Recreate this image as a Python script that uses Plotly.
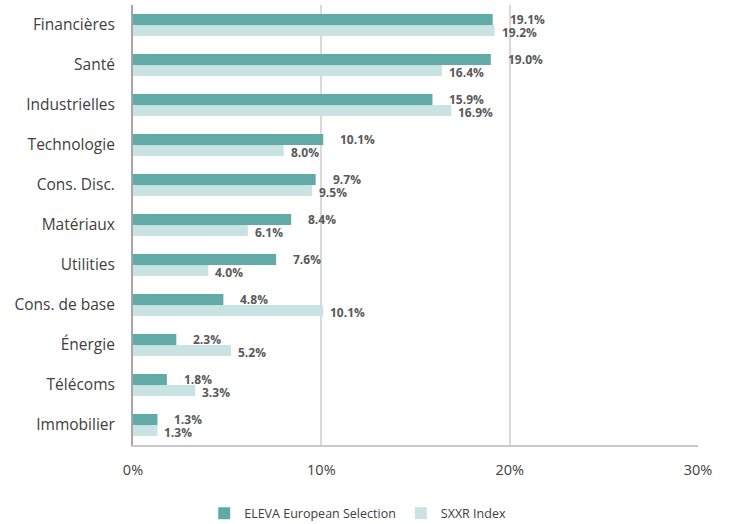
import plotly.graph_objects as go

categories = ["Financières", "Santé", "Industrielles", "Technologie", "Cons. Disc.",
              "Matériaux", "Utilities", "Cons. de base", "Énergie", "Télécoms", "Immobilier"]
eleva = [19.1, 19.0, 15.9, 10.1, 9.7, 8.4, 7.6, 4.8, 2.3, 1.8, 1.3]
sxxr = [19.2, 16.4, 16.9, 8.0, 9.5, 6.1, 4.0, 10.1, 5.2, 3.3, 1.3]
series_names = ["ELEVA European Selection", "SXXR Index"]
tick_vals = [0, 10, 20, 30]
tick_text = ["0%", "10%", "20%", "30%"]

c_eleva = "#62AAA8"
c_sxxr = "#C9E3E3"
font = "Open Sans"

fig = go.Figure()
fig.add_trace(go.Bar(y=categories, x=eleva, orientation="h", name=series_names[0],
                     marker=dict(color=c_eleva, line=dict(width=0))))
fig.add_trace(go.Bar(y=categories, x=sxxr, orientation="h", name=series_names[1],
                     marker=dict(color=c_sxxr, line=dict(width=0))))

annotations = []
for cat, v in zip(categories, eleva):
    annotations.append(dict(x=v, y=cat, text=f"<b>{v:.1f}%</b>", showarrow=False, xanchor="left",
                            yanchor="middle", xshift=15, yshift=6,
                            font=dict(family=font, size=12, color="#595959")))
for cat, v in zip(categories, sxxr):
    annotations.append(dict(x=v, y=cat, text=f"<b>{v:.1f}%</b>", showarrow=False, xanchor="left",
                            yanchor="middle", xshift=5, yshift=-7,
                            font=dict(family=font, size=12, color="#595959")))

fig.update_layout(
    width=730, height=524,
    margin=dict(l=133, r=32, t=5, b=79, autoexpand=False),
    barmode="group", bargap=0.45, bargroupgap=0,
    plot_bgcolor="white", paper_bgcolor="white",
    font=dict(family=font, color="#404040"),
    annotations=annotations,
    showlegend=True,
    legend=dict(orientation="h", xref="container", x=0.49, xanchor="center",
                yref="container", y=0.02, yanchor="middle",
                font=dict(family=font, size=12.5, color="#404040"),
                traceorder="normal", itemwidth=30),
    xaxis=dict(range=[0, 30], tickvals=tick_vals, ticktext=tick_text, showgrid=True,
               gridcolor="#D9D9D9", gridwidth=2, zeroline=False,
               showline=True, linecolor="#C8C8C8", linewidth=2,
               ticks="", ticklabelstandoff=11,
               tickfont=dict(family=font, size=14.5, color="#404040")),
    yaxis=dict(autorange="reversed", showline=True, linecolor="#A6A6A6", linewidth=2,
               ticks="", ticklabelstandoff=13,
               tickfont=dict(family=font, size=15.5, color="#404040")),
)

fig.write_html("out.html", config={"displayModeBar": False},
               post_script="document.body.style.margin='0';")
